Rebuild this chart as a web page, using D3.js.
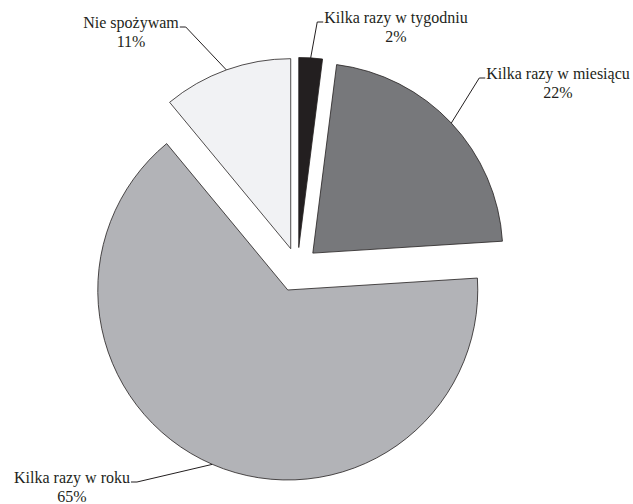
<!DOCTYPE html>
<html><head><meta charset="utf-8">
<script src="https://cdn.jsdelivr.net/npm/d3@7"></script>
<style>body{margin:0;background:#fff}svg{display:block}</style>
</head><body>
<svg id="c" width="633" height="504"></svg>
<script>
const categories = ["Kilka razy w tygodniu", "Kilka razy w miesiącu", "Kilka razy w roku", "Nie spożywam"];
const values = [2, 22, 65, 11];
const valueLabels = ["2%", "22%", "65%", "11%"];
const colors = ["#231f20", "#77787b", "#b2b3b7", "#f1f2f4"];

const svg = d3.select("#c");
const cx = 297.5, cy = 267.5, R = 190;
const explodeBy = [20, 21, 24.5, 20];

const pie = d3.pie().sort(null).value(d => d)(values);
const arc = d3.arc().innerRadius(0).outerRadius(R);

const g = svg.append("g").attr("transform", `translate(${cx},${cy})`);

function offset(d, i) {
  const a = (d.startAngle + d.endAngle) / 2;
  return [explodeBy[i] * Math.sin(a), -explodeBy[i] * Math.cos(a)];
}

g.selectAll("path").data(pie).enter().append("path")
  .attr("d", arc)
  .attr("transform", (d, i) => { const o = offset(d, i); return `translate(${o[0]},${o[1]})`; })
  .attr("fill", (d, i) => colors[i])
  .attr("stroke", "#231f20")
  .attr("stroke-width", 0.8)
  .attr("stroke-linejoin", "miter");

const labelPos = [
  {x: 396, y: 23, side: "left"},
  {x: 558, y: 79, side: "left"},
  {x: 72, y: 483, side: "right"},
  {x: 131, y: 28, side: "right"}
];

const font = "'Liberation Serif', 'Times New Roman', serif";
pie.forEach((d, i) => {
  const p = labelPos[i];
  const t = svg.append("text")
    .attr("x", p.x).attr("y", p.y)
    .attr("text-anchor", "middle")
    .attr("font-family", font).attr("font-size", 16)
    .attr("fill", "#231f20")
    .text(categories[i]);
  svg.append("text")
    .attr("x", p.x).attr("y", p.y + 19)
    .attr("text-anchor", "middle")
    .attr("font-family", font).attr("font-size", 16)
    .attr("fill", "#231f20")
    .text(valueLabels[i]);
  const w = t.node().getComputedTextLength();
  const a = (d.startAngle + d.endAngle) / 2;
  const o = offset(d, i);
  const ex = cx + o[0] + R * Math.sin(a), ey = cy + o[1] - R * Math.cos(a);
  const ly = p.y - 1;
  let x0, x1;
  if (p.side === "left") { x0 = p.x - w / 2 - 1; x1 = x0 - 6; }
  else { x0 = p.x + w / 2 + 1; x1 = x0 + 6; }
  svg.append("path")
    .attr("d", `M${x0},${ly}L${x1},${ly}L${ex},${ey}`)
    .attr("fill", "none").attr("stroke", "#231f20").attr("stroke-width", 1);
});
</script>
</body></html>
